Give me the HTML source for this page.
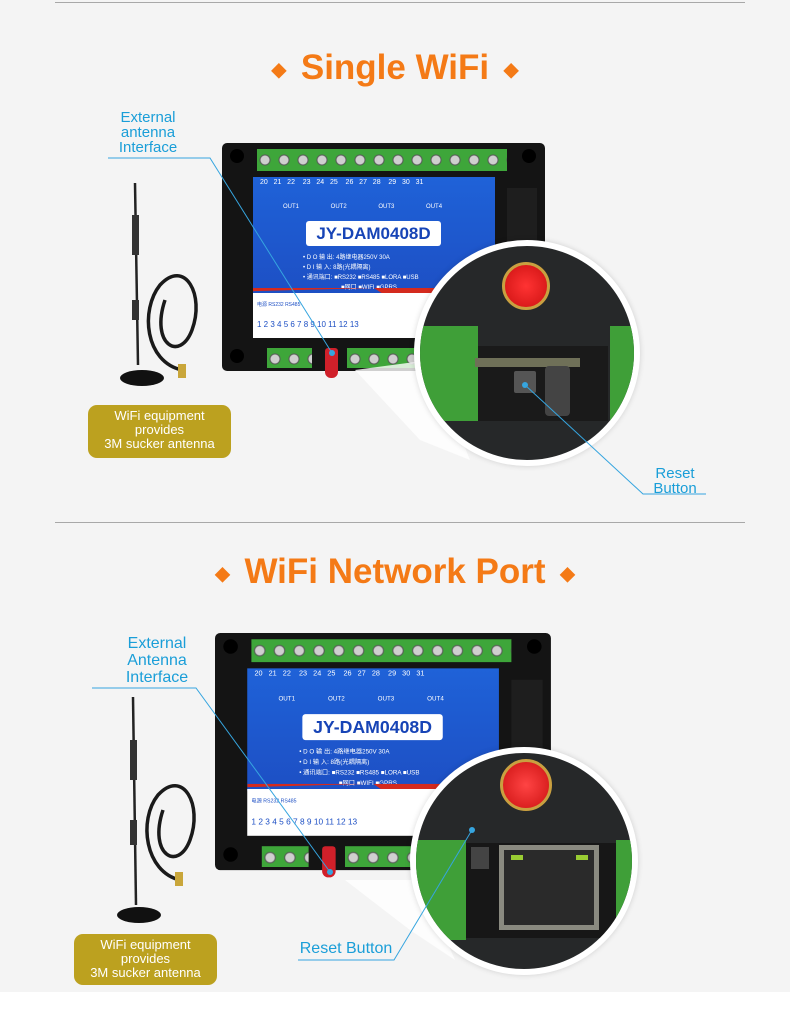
<!DOCTYPE html>
<html><head><meta charset="utf-8"><style>
*{margin:0;padding:0;box-sizing:border-box}
body{width:790px;height:1030px;background:#fff;position:relative;overflow:hidden;font-family:"Liberation Sans","Noto Sans CJK SC",sans-serif}
.bg{position:absolute;left:0;top:0;width:790px;height:992px;background:#f4f4f4}
.ln{position:absolute;height:1px;background:#a8a8a8}
.title{position:absolute;width:790px;text-align:center;color:#f47a16;font-size:35px;font-weight:bold}
.title span{font-size:16px;vertical-align:middle;margin:0 14px}
.a{position:absolute}
.dev{position:absolute;width:325px;height:232px;transform-origin:0 0}
.frame{position:absolute;left:0;top:0;width:323px;height:228px;background:#141414;border-radius:5px}
.hole{position:absolute;width:14px;height:14px;border-radius:50%;background:#000}
.term{position:absolute;background:#3ea63a;background-image:radial-gradient(circle at 8px 11px,#cfcfcf 0,#cfcfcf 4px,#555 5px,transparent 6px);background-size:19px 22px}
.blue{position:absolute;left:31px;top:34px;width:242px;height:118px;background:linear-gradient(#1f62d8,#1d4fc4)}
.nums{position:absolute;left:5px;top:2px;font-size:7px;color:#fff;letter-spacing:0}
.model{position:absolute;left:53px;top:44px;width:135px;height:25px;background:#fff;border-radius:3px;color:#1744b6;font-weight:bold;font-size:17px;text-align:center;line-height:25px}
.spec{position:absolute;left:50px;font-size:6px;color:#fff;white-space:nowrap}
.white{position:absolute;left:31px;top:150px;width:242px;height:45px;background:#fff}
.red{position:absolute;left:31px;top:145px;width:242px;height:8px;background:#d42a1e;clip-path:polygon(0 0,100% 0,100% 100%,55% 100%,50% 0,0 40%)}
.circ{position:absolute;border-radius:50%;background:#262829;border:6px solid #fff;box-shadow:0 0 6px rgba(0,0,0,.15);overflow:hidden}
.lbl{position:absolute;color:#1a9ed8;font-size:15px;line-height:15px;text-align:center}
.gold{position:absolute;background:#bca11f;border-radius:9px;color:#fff;font-size:13px;line-height:14px;text-align:center;padding-top:4px}
</style></head><body>
<div class="bg"></div>
<div class="ln" style="left:55px;top:2px;width:690px"></div>
<div class="ln" style="left:55px;top:522px;width:690px"></div>
<div class="title" style="top:48px"><span>◆</span>Single WiFi<span>◆</span></div>
<div class="title" style="top:552px"><span>◆</span>WiFi Network Port<span>◆</span></div>

<div class="dev" style="left:222px;top:143px">
 <div class="frame"></div>
 <div class="hole" style="left:8px;top:6px"></div><div class="hole" style="left:300px;top:6px"></div>
 <div class="hole" style="left:8px;top:206px"></div>
 <div class="term" style="left:35px;top:6px;width:250px;height:22px"></div>
 <div class="a" style="left:285px;top:45px;width:30px;height:70px;background:#1e1e1e"></div>
 <div class="blue">
  <div class="nums">&nbsp;20&nbsp;&nbsp;&nbsp;21&nbsp;&nbsp;&nbsp;22&nbsp;&nbsp;&nbsp;&nbsp;23&nbsp;&nbsp;&nbsp;24&nbsp;&nbsp;&nbsp;25&nbsp;&nbsp;&nbsp;&nbsp;26&nbsp;&nbsp;&nbsp;27&nbsp;&nbsp;&nbsp;28&nbsp;&nbsp;&nbsp;&nbsp;29&nbsp;&nbsp;&nbsp;30&nbsp;&nbsp;&nbsp;31</div>
  <div class="nums" style="top:27px;left:30px;font-size:6px">OUT1&nbsp;&nbsp;&nbsp;&nbsp;&nbsp;&nbsp;&nbsp;&nbsp;&nbsp;&nbsp;&nbsp;&nbsp;&nbsp;&nbsp;&nbsp;&nbsp;&nbsp;&nbsp;&nbsp;OUT2&nbsp;&nbsp;&nbsp;&nbsp;&nbsp;&nbsp;&nbsp;&nbsp;&nbsp;&nbsp;&nbsp;&nbsp;&nbsp;&nbsp;&nbsp;&nbsp;&nbsp;&nbsp;&nbsp;OUT3&nbsp;&nbsp;&nbsp;&nbsp;&nbsp;&nbsp;&nbsp;&nbsp;&nbsp;&nbsp;&nbsp;&nbsp;&nbsp;&nbsp;&nbsp;&nbsp;&nbsp;&nbsp;&nbsp;OUT4</div>
  <div class="model">JY-DAM0408D</div>
  <div class="spec" style="top:75px">• D O 输 出: 4路继电器250V 30A</div>
  <div class="spec" style="top:85px">• D I 输 入: 8路(光耦隔离)</div>
  <div class="spec" style="top:95px">• 通讯端口: ■RS232 ■RS485 ■LORA ■USB</div>
  <div class="spec" style="top:105px;left:88px">■网口 ■WIFI ■GPRS</div>
 </div>
 <div class="red"></div>
 <div class="white"><div class="a" style="left:4px;top:27px;font-size:8px;color:#1d4fc4;white-space:nowrap">1 2 3 4 5 6 7 8 9 10 11 12 13</div><div class="a" style="left:4px;top:8px;font-size:5px;color:#1d4fc4">电源 RS232 RS485</div></div>
 <div class="term" style="left:45px;top:205px;width:45px;height:20px"></div>
 <div class="term" style="left:125px;top:205px;width:70px;height:20px"></div>
 <div class="a" style="left:103px;top:205px;width:13px;height:30px;background:#d0202a;border-radius:3px 3px 6px 6px"></div>
</div>

<div class="dev" style="left:215px;top:633px;transform:scale(1.04)">
 <div class="frame"></div>
 <div class="hole" style="left:8px;top:6px"></div><div class="hole" style="left:300px;top:6px"></div>
 <div class="hole" style="left:8px;top:206px"></div>
 <div class="term" style="left:35px;top:6px;width:250px;height:22px"></div>
 <div class="a" style="left:285px;top:45px;width:30px;height:70px;background:#1e1e1e"></div>
 <div class="blue">
  <div class="nums">&nbsp;20&nbsp;&nbsp;&nbsp;21&nbsp;&nbsp;&nbsp;22&nbsp;&nbsp;&nbsp;&nbsp;23&nbsp;&nbsp;&nbsp;24&nbsp;&nbsp;&nbsp;25&nbsp;&nbsp;&nbsp;&nbsp;26&nbsp;&nbsp;&nbsp;27&nbsp;&nbsp;&nbsp;28&nbsp;&nbsp;&nbsp;&nbsp;29&nbsp;&nbsp;&nbsp;30&nbsp;&nbsp;&nbsp;31</div>
  <div class="nums" style="top:27px;left:30px;font-size:6px">OUT1&nbsp;&nbsp;&nbsp;&nbsp;&nbsp;&nbsp;&nbsp;&nbsp;&nbsp;&nbsp;&nbsp;&nbsp;&nbsp;&nbsp;&nbsp;&nbsp;&nbsp;&nbsp;&nbsp;OUT2&nbsp;&nbsp;&nbsp;&nbsp;&nbsp;&nbsp;&nbsp;&nbsp;&nbsp;&nbsp;&nbsp;&nbsp;&nbsp;&nbsp;&nbsp;&nbsp;&nbsp;&nbsp;&nbsp;OUT3&nbsp;&nbsp;&nbsp;&nbsp;&nbsp;&nbsp;&nbsp;&nbsp;&nbsp;&nbsp;&nbsp;&nbsp;&nbsp;&nbsp;&nbsp;&nbsp;&nbsp;&nbsp;&nbsp;OUT4</div>
  <div class="model">JY-DAM0408D</div>
  <div class="spec" style="top:75px">• D O 输 出: 4路继电器250V 30A</div>
  <div class="spec" style="top:85px">• D I 输 入: 8路(光耦隔离)</div>
  <div class="spec" style="top:95px">• 通讯端口: ■RS232 ■RS485 ■LORA ■USB</div>
  <div class="spec" style="top:105px;left:88px">■网口 ■WIFI ■GPRS</div>
 </div>
 <div class="red"></div>
 <div class="white"><div class="a" style="left:4px;top:27px;font-size:8px;color:#1d4fc4;white-space:nowrap">1 2 3 4 5 6 7 8 9 10 11 12 13</div><div class="a" style="left:4px;top:8px;font-size:5px;color:#1d4fc4">电源 RS232 RS485</div></div>
 <div class="term" style="left:45px;top:205px;width:45px;height:20px"></div>
 <div class="term" style="left:125px;top:205px;width:70px;height:20px"></div>
 <div class="a" style="left:103px;top:205px;width:13px;height:30px;background:#d0202a;border-radius:3px 3px 6px 6px"></div>
</div>

<svg class="a" style="left:0;top:0" width="790" height="1030">
 <g fill="none" stroke="#1a1a1a" stroke-width="3.5">
  <path d="M182 370 C145 362 140 310 160 285 C185 258 205 295 192 330 C180 362 150 345 165 300"/>
  <path d="M180 880 C145 872 138 820 158 795 C183 768 203 805 190 840 C178 872 148 855 163 810"/>
 </g>
 <g stroke="#222" stroke-width="2.5"><line x1="135" y1="183" x2="138" y2="365"/><line x1="133" y1="697" x2="136" y2="905"/></g>
 <g fill="#333"><rect x="132" y="215" width="7" height="40"/><rect x="130" y="740" width="7" height="40"/><rect x="132" y="300" width="7" height="20"/><rect x="130" y="820" width="7" height="25"/></g>
 <ellipse cx="142" cy="378" rx="22" ry="8" fill="#111"/><ellipse cx="139" cy="915" rx="22" ry="8" fill="#111"/>
 <rect x="178" y="364" width="8" height="14" fill="#c9a63a"/><rect x="175" y="872" width="8" height="14" fill="#c9a63a"/>
 <path d="M355 370 L420 440 L470 460 L430 360Z" fill="#fff" opacity=".8"/>
 <path d="M345 880 L410 930 L455 960 L420 880Z" fill="#fff" opacity=".8"/>
</svg>

<div class="circ" style="left:414px;top:240px;width:226px;height:226px">
 <div class="a" style="left:82px;top:16px;width:48px;height:48px;border-radius:50%;background:radial-gradient(#f33,#c11);border:3px solid #c9a040"></div>
 <div class="a" style="left:0;top:80px;width:58px;height:95px;background:#3f9f38"></div>
 <div class="a" style="left:190px;top:80px;width:40px;height:95px;background:#3f9f38"></div>
 <div class="a" style="left:58px;top:100px;width:130px;height:75px;background:#1a1a1a"></div>
 <div class="a" style="left:55px;top:112px;width:105px;height:9px;background:#6f7058"></div>
 <div class="a" style="left:94px;top:125px;width:22px;height:22px;background:#555;border-radius:2px"></div>
 <div class="a" style="left:125px;top:120px;width:25px;height:50px;background:#444;border-radius:4px"></div>
</div>
<div class="circ" style="left:410px;top:747px;width:228px;height:228px">
 <div class="a" style="left:84px;top:6px;width:52px;height:52px;border-radius:50%;background:radial-gradient(#f44,#c11);border:3px solid #c9a040"></div>
 <div class="a" style="left:0;top:87px;width:50px;height:100px;background:#3f9f38"></div>
 <div class="a" style="left:200px;top:87px;width:30px;height:100px;background:#3f9f38"></div>
 <div class="a" style="left:50px;top:90px;width:150px;height:95px;background:#171717"></div>
 <div class="a" style="left:55px;top:94px;width:18px;height:22px;background:#444"></div>
 <div class="a" style="left:83px;top:92px;width:100px;height:85px;border:5px solid #8a8a80;background:#2a2a2a"></div>
 <div class="a" style="left:95px;top:102px;width:12px;height:5px;background:#9c3"></div>
 <div class="a" style="left:160px;top:102px;width:12px;height:5px;background:#9c3"></div>
</div>

<svg class="a" style="left:0;top:0" width="790" height="1030">
 <g stroke="#36a5df" stroke-width="1" fill="none">
  <polyline points="108,158 210,158 332,353"/>
  <polyline points="525,385 643,494 706,494"/>
  <polyline points="92,688 196,688 330,872"/>
  <polyline points="472,830 394,960 298,960"/>
 </g>
 <g fill="#36a5df"><circle cx="332" cy="353" r="3"/><circle cx="525" cy="385" r="3"/><circle cx="330" cy="872" r="3"/><circle cx="472" cy="830" r="3"/></g>
</svg>

<div class="lbl" style="left:108px;top:110px;width:80px">External<br>antenna<br>Interface</div>
<div class="lbl" style="left:635px;top:466px;width:80px">Reset<br>Button</div>
<div class="lbl" style="left:112px;top:635px;width:90px;font-size:16px;line-height:17px">External<br>Antenna<br>Interface</div>
<div class="lbl" style="left:296px;top:941px;width:100px;font-size:16px">Reset Button</div>
<div class="gold" style="left:88px;top:405px;width:143px;height:53px">WiFi equipment<br>provides<br>3M sucker antenna</div>
<div class="gold" style="left:74px;top:934px;width:143px;height:51px">WiFi equipment<br>provides<br>3M sucker antenna</div>
</body></html>
